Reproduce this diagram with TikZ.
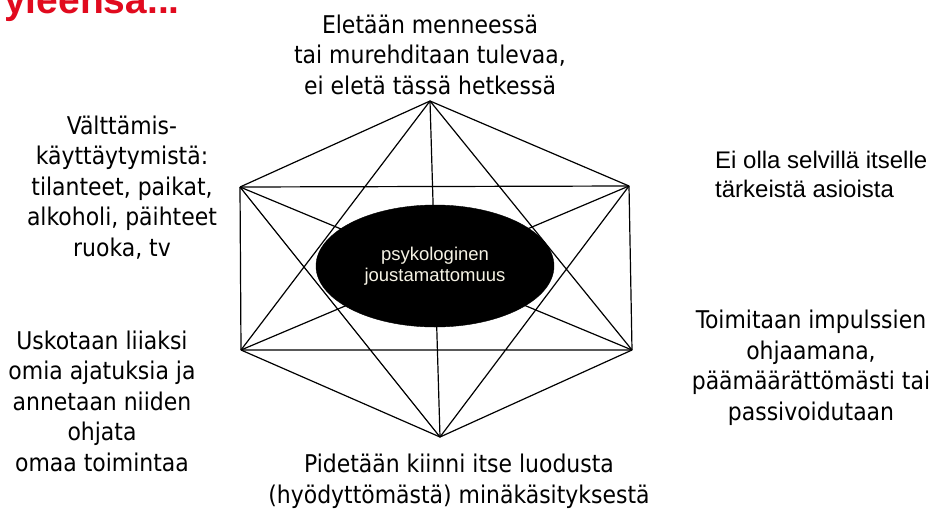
\documentclass[tikz,border=0pt]{standalone}
\usepackage{fontspec}
\setmainfont{Liberation Sans}
\newfontfamily\tah{DejaVu Sans Condensed}
\usetikzlibrary{shapes.geometric}
\definecolor{titlered}{RGB}{225,10,30}
\definecolor{cream}{RGB}{245,242,228}
\tikzset{
  edge/.style={draw=black, line width=1.2pt},
  tahtext/.style={align=center, inner sep=0pt, anchor=base, font=\tah\fontsize{24.4}{30.5}\selectfont},
  arialtext/.style={align=left, inner sep=0pt, anchor=base west, font=\fontsize{24}{28.5}\selectfont},
}
\begin{document}
\begin{tikzpicture}[x=1pt,y=-1pt]
\useasboundingbox (0,0) rectangle (939,509);
\fill[white] (0,0) rectangle (939,509);
% title fragment
\node[anchor=base west, inner sep=0pt, text=titlered, font=\bfseries\fontsize{39}{44}\selectfont] (title) at (4,13) {yleensä...};
% vertices
\coordinate (T) at (430,101);
\coordinate (UL) at (240,187);
\coordinate (UR) at (629,186);
\coordinate (LL) at (241,350);
\coordinate (LR) at (632,350);
\coordinate (B) at (440,437);
% complete graph on six vertices
\draw[edge] (T) -- (UL) (T) -- (UR) (UL) -- (LL) (UR) -- (LR) (LL) -- (B) (LR) -- (B);
\draw[edge] (UL) -- (UR) (LL) -- (LR) (T) -- (LL) (T) -- (LR) (B) -- (UL) (B) -- (UR);
\draw[edge] (T) -- (B) (UL) -- (LR) (UR) -- (LL);
% central ellipse
\node[ellipse, fill=black, draw=black, minimum width=238pt, minimum height=122pt, inner sep=0pt,
      text=cream, align=center, font=\fontsize{18.5}{21.5}\selectfont] (psy) at (435,266)
      {\raisebox{-1.5pt}{psykologinen}\\\raisebox{-1.5pt}{joustamattomuus}};
% labels (base anchor = baseline of the last line)
\node[tahtext] (top) at (430,94) {Eletään menneessä\\tai murehditaan tulevaa,\\ei eletä tässä hetkessä};
\node[tahtext] (vm) at (122,256) {Välttämis-\\käyttäytymistä:\\tilanteet, paikat,\\alkoholi, päihteet\\ruoka, tv};
\node[arialtext] (eo) at (715,197) {Ei olla selvillä itselle\\tärkeistä asioista};
\node[tahtext] (us) at (102,471) {Uskotaan liiaksi\\omia ajatuksia ja\\annetaan niiden\\ohjata\\omaa toimintaa};
\node[tahtext] (ti) at (811,420) {Toimitaan impulssien\\ohjaamana,\\päämäärättömästi tai\\passivoidutaan};
\node[tahtext] (pi) at (459,503) {Pidetään kiinni itse luodusta\\(hyödyttömästä) minäkäsityksestä};
\end{tikzpicture}
\end{document}
